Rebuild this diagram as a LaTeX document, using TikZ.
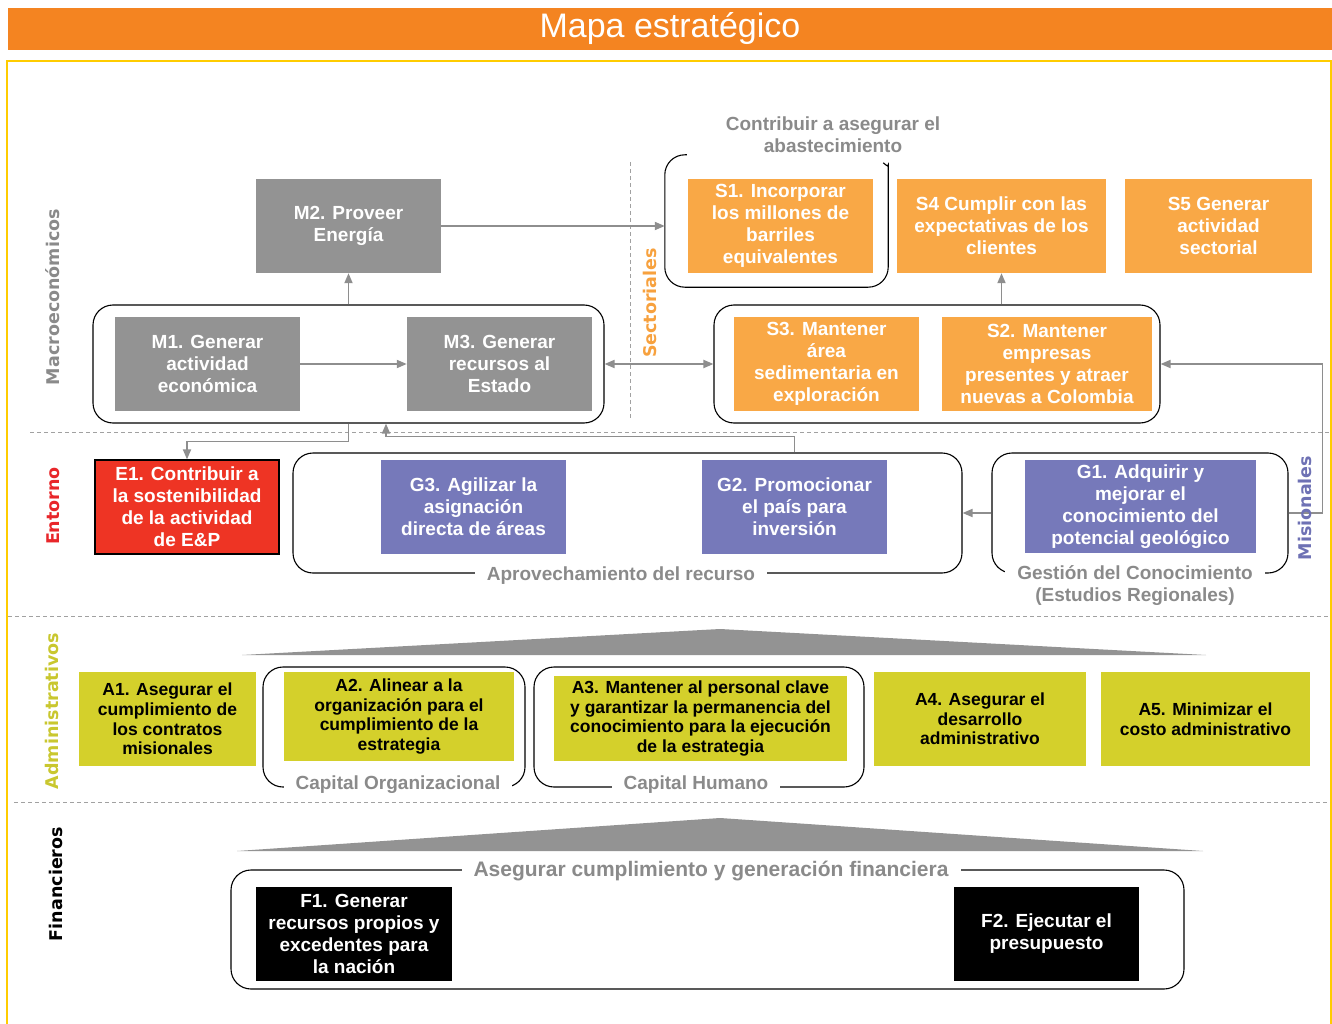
\documentclass[tikz,border=0pt]{standalone}
\usepackage{fontspec}
\setmainfont{Liberation Sans}
\newfontfamily\catfam{DejaVu Sans}
\usetikzlibrary{arrows.meta}
\definecolor{ttlorange}{HTML}{F48421}
\definecolor{frameyel}{HTML}{FFCC00}
\definecolor{mgray}{HTML}{939393}
\definecolor{sorange}{HTML}{F9A846}
\definecolor{ered}{HTML}{EE3424}
\definecolor{gpurple}{HTML}{7679BA}
\definecolor{ayel}{HTML}{D4D02B}
\definecolor{lblgray}{HTML}{8A8A8A}
\definecolor{arrgray}{HTML}{8E8E8E}
\definecolor{misblue}{HTML}{6E71B4}
\definecolor{secorange}{HTML}{F7A13E}
\definecolor{admyel}{HTML}{C9C72F}
\definecolor{entred}{HTML}{E8262A}
\newcommand\bxf{\fontsize{19}{22}\selectfont\bfseries}
\newcommand\axf{\fontsize{17.5}{19.6}\selectfont\bfseries}
\newcommand\lbf{\fontsize{19}{22}\selectfont\bfseries}
\newcommand\ctf{\catfam\fontsize{17.5}{20}\selectfont\bfseries}
\begin{document}
\begin{tikzpicture}[x=1pt,y=-1pt,
  obj/.style={align=center, inner sep=0pt, font=\bxf, text=white, minimum width=185, minimum height=94},
  mbox/.style={obj, fill=mgray},
  sbox/.style={obj, fill=sorange},
  gbox/.style={obj, fill=gpurple},
  ebox/.style={obj, fill=ered, draw=black, line width=1.2pt},
  fbox/.style={obj, fill=black},
  abox/.style={obj, fill=ayel, text=black, font=\axf},
  grp/.style={draw=black, line width=1.1pt, rounded corners=20pt, inner sep=0pt},
  grpline/.style={draw=black, line width=1.1pt, rounded corners=20pt},
  arr/.style={draw=arrgray, line width=1.8pt, -{Triangle[length=10pt,width=8pt]}},
  arrboth/.style={draw=arrgray, line width=1.8pt, {Triangle[length=10pt,width=8pt]}-{Triangle[length=10pt,width=8pt]}},
  sepline/.style={draw=lblgray!80, line width=1pt, dash pattern=on 4pt off 3pt},
  cat/.style={font=\ctf, rotate=90},
  grplbl/.style={font=\lbf, text=lblgray, fill=white, inner xsep=12pt, inner ysep=0pt, align=center}]
\useasboundingbox (0,0) rectangle (1332,1024);
% title band
\node[fill=ttlorange, minimum width=1324, minimum height=42, inner sep=0pt, text=white,
      font=\fontsize{34}{38}\selectfont] (title) at (670,29) {Mapa estratégico};
% yellow frame
\draw[frameyel, line width=2.5pt] (7,1030) -- (7,61) -- (1331,61) -- (1331,1030);
% separators
\draw[sepline] (30,432) -- (1330,432);
\draw[sepline] (8,616) -- (1330,616);
\draw[sepline] (14,802) -- (1330,802);
\draw[sepline] (630,162) -- (630,418);
% category labels
\node[cat, text=lblgray] (cmac) at (53,297) {Macroeconómicos};
\node[cat, text=entred] (cent) at (53,506) {Entorno};
\node[cat, text=admyel] (cadm) at (52,711) {Administrativos};
\node[cat, text=black] (cfin) at (56,884) {Financieros};
\node[cat, text=secorange] (csec) at (650,303) {Sectoriales};
% group frames
\node[grp, minimum width=511, minimum height=118] (mframe) at (348.5,364) {};
\node[grp, minimum width=446, minimum height=118] (sframe) at (937,364) {};
\node[inner sep=0pt, minimum width=223, minimum height=132] (sonefr) at (776.5,221) {};
\draw[grpline] ([xshift=22pt]sonefr.north west) -- (sonefr.north west) -- (sonefr.south west)
   -- (sonefr.south east) -- ([yshift=-30pt]sonefr.north east)
   [sharp corners] .. controls ([yshift=-12pt]sonefr.north east) .. ([xshift=-5pt,yshift=-8pt]sonefr.north east);
\node[grp, minimum width=669, minimum height=120] (aframe) at (627.5,513) {};
\node[grp, minimum width=296, minimum height=120] (gkframe) at (1140,513) {};
\node[grp, minimum width=262, minimum height=120] (atwofr) at (394,727) {};
\node[grp, minimum width=330, minimum height=120] (athreefr) at (699,727) {};
\node[grp, minimum width=953, minimum height=119] (fframe) at (707.5,929.5) {};
% triangles
\fill[mgray] (242,655) -- (720,629) -- (1206,655) -- cycle;
\fill[mgray] (237,851) -- (720,818) -- (1203,851) -- cycle;
% boxes
\node[mbox] (m2) at (348.5,226) {M2. Proveer\\Energía};
\node[sbox] (s1) at (780.5,226) {S1. Incorporar\\los millones de\\barriles\\equivalentes};
\node[sbox, minimum width=209] (s4) at (1001.5,226) {S4 Cumplir con las\\expectativas de los\\clientes};
\node[sbox, minimum width=187] (s5) at (1218.5,226) {S5 Generar\\actividad\\sectorial};
\node[mbox] (m1) at (207.5,364) {M1. Generar\\actividad\\económica};
\node[mbox] (m3) at (499.5,364) {M3. Generar\\recursos al\\Estado};
\node[sbox] (s3) at (826.5,364) {S3. Mantener\\área\\sedimentaria en\\exploración};
\node[sbox, minimum width=210] (s2) at (1047,364) {S2. Mantener\\empresas\\presentes y atraer\\nuevas a Colombia};
\node[ebox, minimum width=184] (e1) at (187,507) {E1. Contribuir a\\la sostenibilidad\\de la actividad\\de E\&P};
\node[gbox] (g3) at (473.5,507) {G3. Agilizar la\\asignación\\directa de áreas};
\node[gbox] (g2) at (794.5,507) {G2. Promocionar\\el país para\\inversión};
\node[gbox, minimum width=231, minimum height=93] (g1) at (1140.5,506.5) {G1. Adquirir y\\mejorar el\\conocimiento del\\potencial geológico};
\node[abox, minimum width=177] (a1) at (167.5,719) {A1. Asegurar el\\cumplimiento de\\los contratos\\misionales};
\node[abox, minimum width=230, minimum height=89] (a2) at (399,716.5) {A2. Alinear a la\\organización para el\\cumplimiento de la\\estrategia};
\node[abox, minimum width=293, minimum height=85] (a3) at (700.5,718.5) {A3. Mantener al personal clave\\y garantizar la permanencia del\\conocimiento para la ejecución\\de la estrategia};
\node[abox, minimum width=212] (a4) at (980,719) {A4. Asegurar el\\desarrollo\\administrativo};
\node[abox, minimum width=209] (a5) at (1205.5,719) {A5. Minimizar el\\costo administrativo};
\node[fbox, minimum width=196] (f1) at (354,934) {F1. Generar\\recursos propios y\\excedentes para\\la nación};
\node[fbox] (f2) at (1046.5,934) {F2. Ejecutar el\\presupuesto};
% connectors
\draw[arr] (m1) -- (m3);
\draw[arr] (m2.south |- mframe.north) -- (m2.south);
\draw[arr] (m2.east) -- (m2.east -| sonefr.west);
\draw[arrboth] (mframe.east) -- (sframe.west);
\draw[arr] (s4.south |- sframe.north) -- (s4.south);
\draw[arr] (gkframe.east) -- ++(34,0) |- (sframe.east);
\draw[arr] (m2.south |- mframe.south) -- ++(0,18) -| (e1.north);
\draw[arr] (g2.north |- aframe.north) -- ++(0,-16) -| ([xshift=37.5pt]mframe.south);
\draw[arr] (gkframe.west) -- (aframe.east);
\node[cat, text=misblue] (cmis) at (1305,508) {Misionales};
% group labels
\node[font=\lbf, text=lblgray, align=center] (contlbl) at (833,135) {Contribuir a asegurar el\\abastecimiento};
\node[grplbl] (aprlbl) at (621,576) {Aprovechamiento del recurso};
\node[grplbl] (gklbl) at (1135,586) {Gestión del Conocimiento\\(Estudios Regionales)};
\node[grplbl] (orglbl) at (398,785) {Capital Organizacional};
\node[grplbl] (humlbl) at (696,785) {Capital Humano};
\node[grplbl, font=\fontsize{21}{24}\selectfont\bfseries] (finlbl) at (711,871) {Asegurar cumplimiento y generación financiera};
\end{tikzpicture}
\end{document}
